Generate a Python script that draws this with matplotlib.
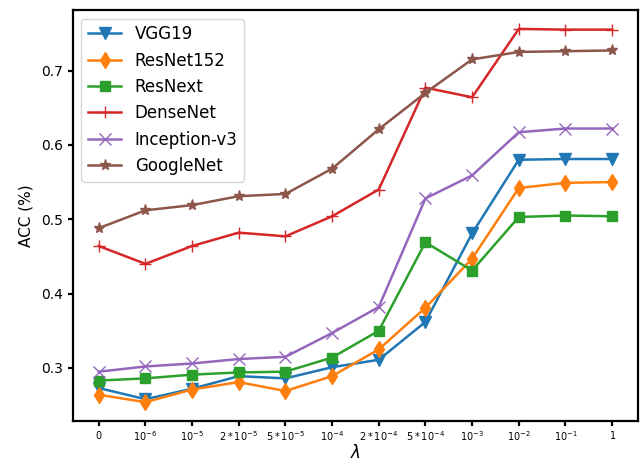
import matplotlib
matplotlib.use("Agg")
import matplotlib.pyplot as plt

# lambda values on the x axis
lambdas = ["$0$", "$10^{-6}$", "$10^{-5}$", "$2*10^{-5}$", "$5*10^{-5}$", "$10^{-4}$",
           "$2*10^{-4}$", "$5*10^{-4}$", "$10^{-3}$", "$10^{-2}$", "$10^{-1}$", "$1$"]

vgg19 = [0.273, 0.258, 0.272, 0.289, 0.286, 0.301, 0.311, 0.362, 0.481, 0.580, 0.581, 0.581]
resnet152 = [0.264, 0.254, 0.271, 0.281, 0.269, 0.289, 0.325, 0.381, 0.447, 0.542, 0.549, 0.550]
resnext = [0.283, 0.286, 0.291, 0.294, 0.295, 0.314, 0.350, 0.469, 0.431, 0.503, 0.505, 0.504]
densenet = [0.464, 0.440, 0.464, 0.482, 0.477, 0.504, 0.540, 0.677, 0.664, 0.756, 0.755, 0.755]
inception = [0.295, 0.302, 0.306, 0.312, 0.315, 0.347, 0.382, 0.528, 0.559, 0.617, 0.622, 0.622]
googlenet = [0.488, 0.512, 0.519, 0.531, 0.534, 0.568, 0.621, 0.670, 0.715, 0.725, 0.726, 0.727]

x = list(range(len(lambdas)))

plt.rcParams["axes.linewidth"] = 1.6
plt.rcParams["xtick.major.width"] = 1.6
plt.rcParams["ytick.major.width"] = 1.6
plt.rcParams["xtick.major.pad"] = 2.5

plt.figure(figsize=(6.41, 4.65), dpi=100)

plt.plot(x, vgg19, marker="v", markersize=8, linewidth=1.8, label="VGG19")
plt.plot(x, resnet152, marker="d", markersize=8, linewidth=1.8, label="ResNet152")
plt.plot(x, resnext, marker="s", markersize=7, linewidth=1.8, label="ResNext")
plt.plot(x, densenet, marker="+", markersize=8, linewidth=1.8, label="DenseNet")
plt.plot(x, inception, marker="x", markersize=8, linewidth=1.8, label="Inception-v3")
plt.plot(x, googlenet, marker="*", markersize=8, linewidth=1.8, label="GoogleNet")

plt.xticks(x, lambdas, fontsize=7)
plt.yticks(fontsize=10)
plt.xlabel(r"$\lambda$", fontsize=12, labelpad=1)
plt.ylabel("ACC (%)", fontsize=11, labelpad=6)
plt.legend(fontsize=12, loc="upper left")

plt.subplots_adjust(left=0.114, right=0.995, top=0.978, bottom=0.095)
plt.savefig("out.png")
plt.close()
